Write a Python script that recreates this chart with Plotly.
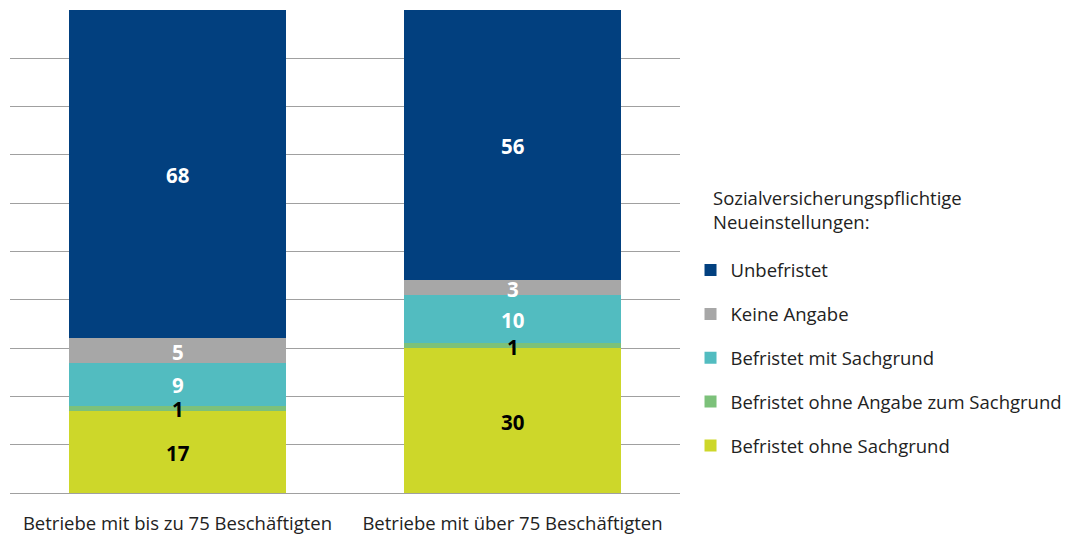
import plotly.graph_objects as go

categories = ["Betriebe mit bis zu 75 Beschäftigten", "Betriebe mit über 75 Beschäftigten"]
series_names = ["Befristet ohne Sachgrund", "Befristet ohne Angabe zum Sachgrund",
                "Befristet mit Sachgrund", "Keine Angabe", "Unbefristet"]
ohne_sachgrund = [17, 30]
ohne_angabe = [1, 1]
mit_sachgrund = [9, 10]
keine_angabe = [5, 3]
unbefristet = [68, 56]
legend_title = "Sozialversicherungspflichtige<br>Neueinstellungen:"

series_values = [ohne_sachgrund, ohne_angabe, mit_sachgrund, keine_angabe, unbefristet]
colors = ["#cdd72a", "#7cc17a", "#52bcc0", "#a7a7a7", "#02407f"]
label_colors = ["#000000", "#000000", "#ffffff", "#ffffff", "#ffffff"]

FONT = "Open Sans"
TXT = 18.5

fig = go.Figure()
n = len(series_names)
for i, (name, vals, col) in enumerate(zip(series_names, series_values, colors)):
    fig.add_trace(go.Bar(
        x=categories, y=vals, name=name, marker=dict(color=col, line=dict(width=0)),
        legendgroup=name, legendrank=n - i, hoverinfo="skip",
    ))

annotations = []
for ci, cat in enumerate(categories):
    base = 0
    for si, vals in enumerate(series_values):
        v = vals[ci]
        annotations.append(dict(
            x=cat, y=base + v / 2, xref="x", yref="y", yshift=-1, text="<b>%d</b>" % v,
            showarrow=False, font=dict(family=FONT, size=20.5, color=label_colors[si]),
            yanchor="middle", xanchor="center",
        ))
        base += v

annotations.append(dict(
    x=1.046, y=0.642, xref="paper", yref="paper", xanchor="left", yanchor="top",
    text=legend_title, showarrow=False, align="left",
    font=dict(family=FONT, size=TXT, color="#222222"),
))

fig.update_layout(
    barmode="stack",
    bargap=0.35,
    width=1064, height=528,
    margin=dict(l=2, r=392, t=2, b=43, autoexpand=False),
    paper_bgcolor="white", plot_bgcolor="white",
    font=dict(family=FONT, size=TXT, color="#222222"),
    annotations=annotations,
    showlegend=True,
    legend=dict(
        x=1.0157, y=0.5, xanchor="left", yanchor="top",
        traceorder="grouped", tracegroupgap=16.8,
        font=dict(size=TXT, family=FONT, color="#222222"),
        itemsizing="constant", itemwidth=30,
    ),
    xaxis=dict(showgrid=False, showline=False, ticks="outside", ticklen=14,
               tickcolor="rgba(0,0,0,0)", tickfont=dict(size=TXT, family=FONT)),
    yaxis=dict(range=[0, 100], dtick=10, showgrid=True, gridcolor="#a0a0a0", gridwidth=1,
               zeroline=True, zerolinecolor="#a0a0a0", zerolinewidth=1,
               showticklabels=False, showline=False),
)

fig.write_html("out.html")
